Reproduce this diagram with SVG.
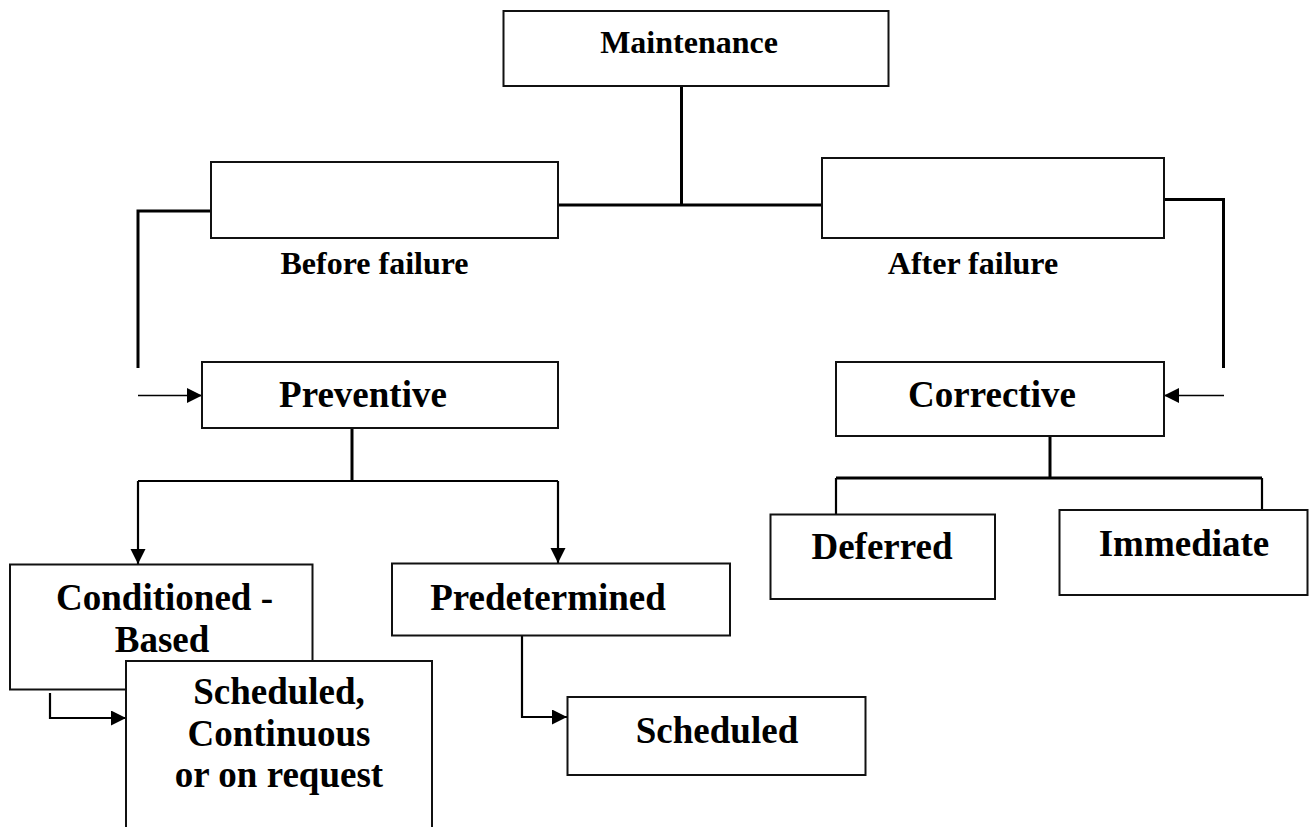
<svg xmlns="http://www.w3.org/2000/svg" width="1314" height="827" viewBox="0 0 1314 827">
<style>
.box{fill:#fff;stroke:#111;stroke-width:2}
.t{font-family:"Liberation Serif","Times New Roman",serif;font-weight:bold;fill:#000;text-anchor:middle}
.s{font-size:32px}
.b{font-size:37px}
.c{fill:none;stroke:#000;stroke-linecap:butt;stroke-linejoin:miter}
.w3{stroke-width:3}
.w2{stroke-width:2.2}
.w1{stroke-width:1.6}
</style>
<defs>
<marker id="ah" markerUnits="userSpaceOnUse" markerWidth="16" markerHeight="16" refX="15" refY="7.5" orient="auto">
<path d="M0,0 L15,7.5 L0,15 z" fill="#000"/>
</marker>
</defs>
<rect x="0" y="0" width="1314" height="827" fill="#fff"/>
<g id="connectors">
<path class="c w3" d="M681.5,86 V205"/>
<path class="c w3" d="M558,205 H822"/>
<path class="c w3" d="M211,211 H138 V368"/>
<path class="c w3" d="M1164,199.5 H1223.5 V368"/>
<path class="c w1" d="M138,395.5 H202" marker-end="url(#ah)"/>
<path class="c w1" d="M1224,395.5 H1164" marker-end="url(#ah)"/>
<path class="c w3" d="M352,428 V481"/>
<path class="c w2" d="M138,481 H558"/>
<path class="c w2" d="M138,481 V564" marker-end="url(#ah)"/>
<path class="c w2" d="M558,481 V563" marker-end="url(#ah)"/>
<path class="c w3" d="M1050,436 V478"/>
<path class="c w3" d="M836,478 H1262"/>
<path class="c w2" d="M836,478 V514"/>
<path class="c w2" d="M1262,478 V510"/>
<path class="c w2" d="M50,693 V718 H126" marker-end="url(#ah)"/>
<path class="c w2" d="M522,636 V717 H567" marker-end="url(#ah)"/>
</g>
<g id="maintenance">
<rect class="box" x="503.5" y="11" width="385" height="75"/>
<text class="t s" x="689" y="53">Maintenance</text>
</g>
<g id="before-failure">
<rect class="box" x="211" y="162" width="347" height="76"/>
<text class="t s" x="374.5" y="274">Before failure</text>
</g>
<g id="after-failure">
<rect class="box" x="822" y="158" width="342" height="80"/>
<text class="t s" x="973" y="274">After failure</text>
</g>
<g id="preventive">
<rect class="box" x="202" y="362" width="356" height="66"/>
<text class="t b" x="363" y="407">Preventive</text>
</g>
<g id="corrective">
<rect class="box" x="836" y="362" width="328" height="74"/>
<text class="t b" x="992" y="407">Corrective</text>
</g>
<g id="deferred">
<rect class="box" x="770.5" y="514.5" width="224.5" height="84.5"/>
<text class="t b" x="882" y="559">Deferred</text>
</g>
<g id="immediate">
<rect class="box" x="1059.5" y="510" width="248" height="85"/>
<text class="t b" x="1184" y="556">Immediate</text>
</g>
<g id="conditioned-based">
<rect class="box" x="10" y="564.5" width="302.5" height="125"/>
<text class="t b" x="164.5" y="610">Conditioned -</text>
<text class="t b" x="162" y="652">Based</text>
</g>
<g id="predetermined">
<rect class="box" x="392" y="563.5" width="338" height="72"/>
<text class="t b" x="548" y="609.5">Predetermined</text>
</g>
<g id="scheduled-continuous">
<rect class="box" x="126" y="661" width="306" height="200"/>
<text class="t b" x="279" y="704">Scheduled,</text>
<text class="t b" x="279" y="746">Continuous</text>
<text class="t b" x="279" y="787">or on request</text>
</g>
<g id="scheduled">
<rect class="box" x="567.5" y="697" width="298" height="78"/>
<text class="t b" x="717" y="743">Scheduled</text>
</g>
</svg>
